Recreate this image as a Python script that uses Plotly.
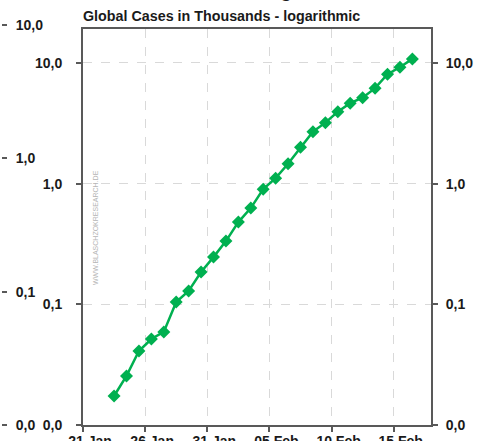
import pandas as pd
import plotly.graph_objects as go

# Daily readings, global cases in thousands
dates = [
    "2020-01-23", "2020-01-24", "2020-01-25", "2020-01-26", "2020-01-27",
    "2020-01-28", "2020-01-29", "2020-01-30", "2020-01-31", "2020-02-01",
    "2020-02-02", "2020-02-03", "2020-02-04", "2020-02-05", "2020-02-06",
    "2020-02-07", "2020-02-08", "2020-02-09", "2020-02-10", "2020-02-11",
    "2020-02-12", "2020-02-13", "2020-02-14", "2020-02-15", "2020-02-16",
]
cases_k = [
    0.0174, 0.0255, 0.041, 0.0516, 0.059,
    0.1045, 0.129, 0.185, 0.246, 0.334,
    0.480, 0.627, 0.90, 1.11, 1.46,
    2.00, 2.69, 3.20, 3.94, 4.64,
    5.15, 6.18, 8.06, 9.21, 10.8,
]

y_tickvals = [0.01, 0.1, 1, 10]
y_ticktext = ["0,0", "0,1", "1,0", "10,0"]

main_title = "Coronavirus - Meldungen"
sub_title = "Global Cases in Thousands - logarithmic"
watermark = "WWW.BLASCHZOKRESEARCH.DE"

W, H = 486, 441
LEFT, RIGHT, TOP, BOTTOM = 83, 431, 29, 425

GREEN = "#00b050"
AXIS = "#595959"
TXT = "#1a1a1a"
GRID = "#d9d9d9"
FONT = "Liberation Sans, Arial, sans-serif"

# each day sits in the middle of its slot
x_mid = pd.to_datetime(dates) + pd.Timedelta(hours=12)

fig = go.Figure()
fig.add_trace(go.Scatter(
    x=x_mid, y=cases_k, mode="lines+markers",
    line=dict(color=GREEN, width=2.5),
    marker=dict(symbol="diamond", size=10, color=GREEN),
    showlegend=False, hoverinfo="x+y",
))
# empty traces so the secondary value axes get drawn
fig.add_trace(go.Scatter(x=[None], y=[None], yaxis="y2", showlegend=False, hoverinfo="skip"))
fig.add_trace(go.Scatter(x=[None], y=[None], xaxis="x2", yaxis="y3", showlegend=False, hoverinfo="skip"))

dom_x = [LEFT / W, RIGHT / W]
dom_y = [(H - BOTTOM) / H, (H - TOP) / H]
log_top = 1 + (63 - TOP) / 121.0

tickfont = dict(family=FONT, size=14, color=TXT, weight="bold")

fig.update_layout(
    width=W, height=H,
    margin=dict(l=0, r=0, t=0, b=0, autoexpand=False),
    paper_bgcolor="white", plot_bgcolor="rgba(0,0,0,0)",
    xaxis=dict(
        domain=dom_x, type="date", anchor="y",
        range=["2020-01-21", "2020-02-18"],
        tick0="2020-01-21", dtick=5 * 86400000,
        tickformat="%d %b", tickfont=tickfont,
        ticks="outside", ticklen=5, tickwidth=2, tickcolor=AXIS,
        ticklabelshift=7, ticklabelstandoff=-3,
        showline=True, linecolor=AXIS, linewidth=2, mirror=True,
        showgrid=True, gridcolor=GRID, griddash="dash", gridwidth=1,
        zeroline=False, fixedrange=True, automargin=False,
    ),
    yaxis=dict(
        domain=dom_y, type="log", range=[-2, log_top], anchor="x",
        tickvals=y_tickvals, ticktext=y_ticktext, tickfont=tickfont,
        ticks="outside", ticklen=5, tickwidth=2, tickcolor=AXIS,
        ticklabelstandoff=11,
        showline=True, linecolor=AXIS, linewidth=2,
        showgrid=True, gridcolor=GRID, griddash="dash", gridwidth=1,
        zeroline=False, fixedrange=True, automargin=False,
    ),
    yaxis2=dict(
        overlaying="y", side="right", anchor="x",
        type="log", range=[-2, log_top],
        tickvals=y_tickvals, ticktext=y_ticktext, tickfont=tickfont,
        ticks="outside", ticklen=5, tickwidth=2, tickcolor=AXIS,
        ticklabelstandoff=5,
        showline=True, linecolor=AXIS, linewidth=2,
        showgrid=False, zeroline=False, fixedrange=True, automargin=False,
    ),
    # value axis of the neighbouring panel on the left edge
    xaxis2=dict(domain=[0, 0.002], visible=False, showgrid=False,
                fixedrange=True, automargin=False),
    yaxis3=dict(
        domain=[(H - BOTTOM) / H, 1.0], anchor="x2", side="right",
        type="log", range=[-2, -2 + BOTTOM / 133.3],
        tickvals=y_tickvals, ticktext=y_ticktext, tickfont=tickfont,
        ticks="outside", ticklen=5, tickwidth=2, tickcolor=AXIS,
        ticklabelstandoff=6,
        showline=False, showgrid=False, zeroline=False,
        fixedrange=True, automargin=False,
    ),
    annotations=[
        dict(text=main_title, xref="paper", yref="paper",
             x=LEFT / W, y=1 + 10 / H, xanchor="left", yanchor="middle",
             showarrow=False, font=dict(family=FONT, size=19, color=TXT, weight="bold")),
        dict(text=sub_title, xref="paper", yref="paper",
             x=LEFT / W - 2 / W, y=1 - 16 / H, xanchor="left", yanchor="middle",
             showarrow=False, font=dict(family=FONT, size=14.3, color=TXT, weight="bold")),
        dict(text=watermark, xref="paper", yref="paper",
             x=95.5 / W, y=1 - 227.5 / H, xanchor="center", yanchor="middle",
             textangle=-90, showarrow=False,
             font=dict(family=FONT, size=7, color="#b5b5b5")),
    ],
)

fig.write_html("out.html")
